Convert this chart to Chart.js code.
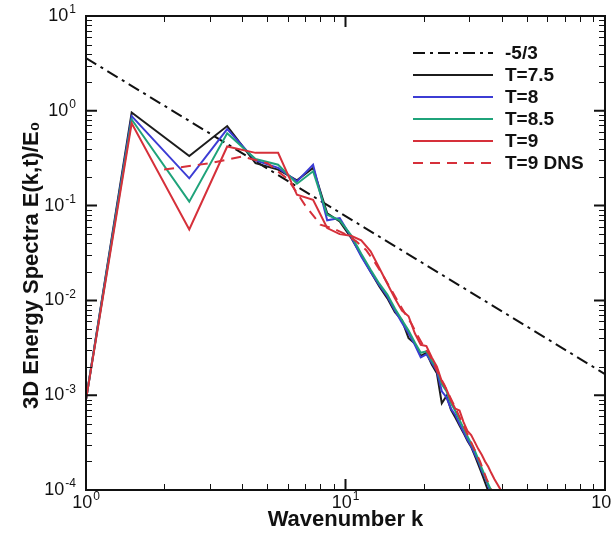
<!DOCTYPE html>
<html lang="en">
<head>
<meta charset="UTF-8">
<title>3D Energy Spectra</title>
<script src="https://cdn.jsdelivr.net/npm/chart.js"></script>
<style>
    html, body { margin: 0; padding: 0; background: #fff; }
    .chart-container { position: relative; width: 611px; height: 533px; }
</style>
</head>
<body>
<div class="chart-container">
    <canvas id="spectra-chart" width="611" height="533"></canvas>
</div>
<script>
    // wavenumbers of the LES spectra and of the DNS spectrum
    const kLES = [1, 1.5, 2.5, 3.5, 4.5, 5.5, 6.5, 7.5, 8.5, 9.5, 10.5, 11.5, 12.5, 13.5, 14.5, 15.5,
        16.5, 17.5, 18.5, 19.5, 20.5, 21.5, 22.5, 23.5, 24.5, 25.5, 26.5, 27.5, 28.5, 29.5, 30.5,
        31.5, 32.5, 33.5, 34.5, 35.5, 36.5, 37.5, 38.5, 39.5, 40.5];
    const kDNS = [2, 3, 4, 5, 6, 7, 8, 9, 10, 11, 12, 13, 14, 15, 16, 17, 18, 19, 20, 21, 22, 23,
        24, 25, 26, 27, 28, 29, 30, 31, 32, 33, 34, 35, 36, 37, 38];

    // E(k,t)/E0
    const eT75 = [0.0009, 0.96, 0.333, 0.69, 0.28, 0.24, 0.185, 0.25, 0.083, 0.068, 0.046, 0.030,
        0.020, 0.014, 0.0105, 0.0075, 0.0062, 0.0040, 0.0035, 0.0026, 0.0028, 0.0021, 0.0017,
        0.00082, 0.00098, 0.00070, 0.00058, 0.00048, 0.00040, 0.00033, 0.000285, 0.00023,
        0.000185, 0.00015, 0.00012, 0.000097, 0.000078, 0.000062];
    const eT8 = [0.0009, 0.88, 0.194, 0.64, 0.30, 0.25, 0.18, 0.27, 0.07, 0.074, 0.047, 0.029,
        0.020, 0.0145, 0.011, 0.0078, 0.0058, 0.0045, 0.0034, 0.0025, 0.0027, 0.0022, 0.0018,
        0.0011, 0.00095, 0.00072, 0.00062, 0.00050, 0.00041, 0.00034, 0.00029, 0.00024,
        0.00020, 0.00016, 0.000135, 0.00011, 0.00009, 0.000072];
    const eT85 = [0.0009, 0.81, 0.11, 0.58, 0.31, 0.27, 0.17, 0.23, 0.08, 0.07, 0.049, 0.031,
        0.021, 0.015, 0.0115, 0.0082, 0.0062, 0.0048, 0.0036, 0.0028, 0.0029, 0.0023, 0.0019,
        0.0013, 0.0011, 0.00082, 0.00068, 0.00055, 0.00045, 0.00037, 0.00031, 0.00026,
        0.00021, 0.00017, 0.00014, 0.000115, 0.000098, 0.00008];
    const eT9 = [0.0009, 0.74, 0.056, 0.42, 0.36, 0.36, 0.13, 0.115, 0.058, 0.05, 0.048, 0.043,
        0.033, 0.022, 0.015, 0.0105, 0.0078, 0.0068, 0.0045, 0.0034, 0.0033, 0.0025, 0.0020,
        0.0014, 0.00115, 0.00088, 0.00072, 0.00069, 0.00052, 0.00042, 0.00038, 0.00032,
        0.00027, 0.000235, 0.0002, 0.000176, 0.00015, 0.00013, 0.000115, 0.000102, 0.000085];
    const eDNS = [0.24, 0.28, 0.33, 0.28, 0.19, 0.10, 0.063, 0.057, 0.05, 0.042, 0.034, 0.025,
        0.018, 0.013, 0.0095, 0.0072, 0.0056, 0.0042, 0.0033, 0.0027, 0.0021, 0.0016, 0.0013,
        0.00102, 0.00082, 0.00066, 0.00053, 0.00043, 0.00035, 0.00029, 0.00024, 0.0002,
        0.00016, 0.00013, 0.00011, 0.00009, 0.00007];

    // -5/3 reference line end points
    const kRef = [1, 100];
    const eRef = [3.6, 0.00167];

    // decade ticks
    const xDecades = [1, 10, 100];
    const xExponents = ['0', '1', '2'];
    const yDecades = [1e-4, 1e-3, 1e-2, 1e-1, 1, 10];
    const yExponents = ['-4', '-3', '-2', '-1', '0', '1'];

    function pts(ks, es) {
        return es.map((e, i) => ({x: ks[i], y: e}));
    }

    const FONT = "'Liberation Sans', Arial, sans-serif";

    function drawPow(ctx, exp, x, y, align) {
        ctx.font = '18px ' + FONT;
        const wBase = ctx.measureText('10').width;
        ctx.font = '12px ' + FONT;
        const wExp = ctx.measureText(exp).width;
        const total = wBase + wExp + 1;
        let x0 = align === 'center' ? x - total / 2 : x - total;
        ctx.textAlign = 'left';
        ctx.textBaseline = 'middle';
        ctx.font = '18px ' + FONT;
        ctx.fillText('10', x0, y);
        ctx.font = '12px ' + FONT;
        ctx.fillText(exp, x0 + wBase + 1, y - 6);
    }

    // frame, inward ticks, tick labels and legend
    const framePlugin = {
        id: 'framePlugin',
        afterDraw(chart) {
            const {ctx, chartArea: a, scales: {x, y}} = chart;
            ctx.save();
            ctx.strokeStyle = '#111';
            ctx.fillStyle = '#111';

            // minor ticks
            ctx.lineWidth = 1;
            ctx.beginPath();
            xDecades.slice(0, -1).forEach(d => {
                for (let m = 2; m < 10; m++) {
                    const px = Math.round(x.getPixelForValue(d * m)) + 0.5;
                    ctx.moveTo(px, a.bottom); ctx.lineTo(px, a.bottom - 6);
                    ctx.moveTo(px, a.top); ctx.lineTo(px, a.top + 6);
                }
            });
            yDecades.slice(0, -1).forEach(d => {
                for (let m = 2; m < 10; m++) {
                    const py = Math.round(y.getPixelForValue(d * m)) + 0.5;
                    ctx.moveTo(a.left, py); ctx.lineTo(a.left + 6, py);
                    ctx.moveTo(a.right, py); ctx.lineTo(a.right - 6, py);
                }
            });
            ctx.stroke();

            // major ticks
            ctx.lineWidth = 2;
            ctx.beginPath();
            xDecades.forEach(d => {
                const px = x.getPixelForValue(d);
                ctx.moveTo(px, a.bottom); ctx.lineTo(px, a.bottom - 11);
                ctx.moveTo(px, a.top); ctx.lineTo(px, a.top + 11);
            });
            yDecades.forEach(d => {
                const py = y.getPixelForValue(d);
                ctx.moveTo(a.left, py); ctx.lineTo(a.left + 11, py);
                ctx.moveTo(a.right, py); ctx.lineTo(a.right - 11, py);
            });
            ctx.stroke();

            // frame
            ctx.lineWidth = 2;
            ctx.strokeRect(a.left, a.top, a.right - a.left, a.bottom - a.top);

            // tick labels
            xDecades.forEach((d, i) => drawPow(ctx, xExponents[i], x.getPixelForValue(d), a.bottom + 13, 'center'));
            yDecades.forEach((d, i) => drawPow(ctx, yExponents[i], a.left - 10, y.getPixelForValue(d), 'right'));

            // legend
            const lx0 = a.right - 192, lx1 = a.right - 112, tx = a.right - 100;
            chart.data.datasets.forEach((ds, i) => {
                const ly = a.top + 37 + i * 22;
                ctx.save();
                ctx.strokeStyle = ds.borderColor;
                ctx.lineWidth = ds.borderWidth;
                ctx.setLineDash(ds.borderDash || []);
                ctx.beginPath();
                ctx.moveTo(lx0, ly); ctx.lineTo(lx1, ly);
                ctx.stroke();
                ctx.restore();
                ctx.font = 'bold 19px ' + FONT;
                ctx.textAlign = 'left';
                ctx.textBaseline = 'middle';
                ctx.fillText(ds.label, tx, ly + 1);
            });
            ctx.restore();
        }
    };

    const ctx = document.getElementById('spectra-chart').getContext('2d');
    const spectraChart = new Chart(ctx, {
        type: 'line',
        data: {
            datasets: [
                {label: '-5/3', data: pts(kRef, eRef), borderColor: '#111', borderWidth: 2, borderDash: [12, 5, 3, 5], order: 6},
                {label: 'T=7.5', data: pts(kLES, eT75), borderColor: '#1c1c1c', borderWidth: 2, order: 5},
                {label: 'T=8', data: pts(kLES, eT8), borderColor: '#3c3cd4', borderWidth: 2, order: 4},
                {label: 'T=8.5', data: pts(kLES, eT85), borderColor: '#1fa37a', borderWidth: 2, order: 3},
                {label: 'T=9', data: pts(kLES, eT9), borderColor: '#d6303a', borderWidth: 2, order: 2},
                {label: 'T=9 DNS', data: pts(kDNS, eDNS), borderColor: '#d6303a', borderWidth: 2, borderDash: [10, 7], order: 1}
            ]
        },
        options: {
            responsive: false,
            animation: false,
            datasets: {
                line: {pointRadius: 0, tension: 0, fill: false}
            },
            layout: {
                autoPadding: false,
                padding: {top: 16, right: 6, left: 0, bottom: 0}
            },
            scales: {
                x: {
                    type: 'logarithmic',
                    min: 1,
                    max: 100,
                    grid: {display: false},
                    border: {display: false},
                    ticks: {display: false},
                    title: {
                        display: true,
                        text: 'Wavenumber k',
                        color: '#111',
                        font: {family: FONT, size: 22, weight: 'bold'},
                        padding: {top: 0, bottom: 0}
                    },
                    afterFit: s => { s.height = 43; }
                },
                y: {
                    type: 'logarithmic',
                    min: 1e-4,
                    max: 10,
                    grid: {display: false},
                    border: {display: false},
                    ticks: {display: false},
                    title: {
                        display: true,
                        // trailing spaces nudge the label down like the original
                        text: '3D Energy Spectra E(k,t)/E\u2080    ',
                        color: '#111',
                        font: {family: FONT, size: 22, weight: 'bold'},
                        padding: {top: 19, bottom: 0}
                    },
                    afterFit: s => { s.width = 86; }
                }
            },
            plugins: {
                legend: {display: false},
                tooltip: {enabled: false}
            }
        },
        plugins: [framePlugin]
    });
</script>
</body>
</html>
